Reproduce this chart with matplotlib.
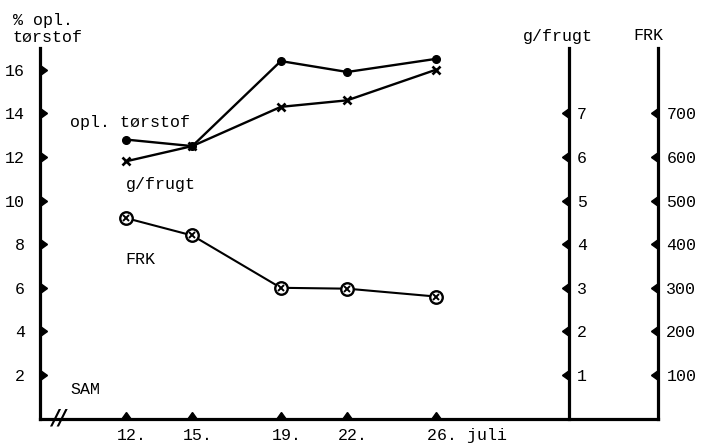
import numpy as np
import matplotlib
matplotlib.use("Agg")
import matplotlib.pyplot as plt
from matplotlib.markers import CARETRIGHTBASE, CARETLEFTBASE, CARETUPBASE
from matplotlib.transforms import ScaledTranslation

plt.rcParams['font.family'] = ['Liberation Mono', 'DejaVu Sans Mono']
plt.rcParams['font.size'] = 12

# data (x = day in July)
dates = [12, 15, 19, 22, 26]
date_labels = ["12.", "15.", "19.", "22.", "26. juli"]
torstof = [12.8, 12.5, 16.4, 15.9, 16.5]      # % opl. tørstof, left axis
g_frugt = [5.9, 6.25, 7.15, 7.3, 8.0]         # g/frugt, middle axis
frk = [460, 420, 300, 298, 280]               # FRK, right axis

left_ticks = [2, 4, 6, 8, 10, 12, 14, 16]
g_ticks = [1, 2, 3, 4, 5, 6, 7]
frk_ticks = [100, 200, 300, 400, 500, 600, 700]

W, H = 704, 447
fig = plt.figure(figsize=(W / 100, H / 100), dpi=100)
ax = fig.add_axes([40 / W, (H - 418.6) / H, 618 / W, 370.6 / H])
ax.set_xlim(8.12, 36.04)
ax.set_ylim(0, 17)

lw_axis = 2.3
for s in ["top", "right"]:
    ax.spines[s].set_visible(False)
for s in ["left", "bottom"]:
    ax.spines[s].set_linewidth(lw_axis)

ax2 = ax.twinx()
ax2.set_ylim(0, 8.5)
ax3 = ax.twinx()
ax3.set_ylim(0, 850)
for a in (ax2, ax3):
    for s in ["top", "left", "bottom"]:
        a.spines[s].set_visible(False)
    a.spines["right"].set_linewidth(lw_axis)
ax2.spines["right"].set_position(("data", 32))

# ticks: labels only, triangle markers drawn below
ax.set_xticks(dates)
ax.set_xticklabels(date_labels)
ax.set_yticks(left_ticks)
ax.tick_params(axis="y", length=0, pad=11)
ax.tick_params(axis="x", length=0, pad=7)
for lab in ax.get_xticklabels():
    lab.set_horizontalalignment("left")
    lab.set_transform(lab.get_transform() + ScaledTranslation(-9 / 100, 0, fig.dpi_scale_trans))

ax2.set_yticks(g_ticks)
ax3.set_yticks(frk_ticks)
for a in (ax2, ax3):
    a.tick_params(axis="y", length=0, pad=6)

mk = dict(color="k", ls="none", ms=7, clip_on=False, zorder=5)
ax.plot(np.zeros(len(left_ticks)), left_ticks, marker=CARETRIGHTBASE,
        transform=ax.get_yaxis_transform(), **mk)
ax.plot(dates, np.zeros(len(dates)), marker=CARETUPBASE,
        transform=ax.get_xaxis_transform(), **mk)
ax2.plot(np.full(len(g_ticks), 32.0), g_ticks, marker=CARETLEFTBASE, **mk)
ax3.plot(np.ones(len(frk_ticks)), frk_ticks, marker=CARETLEFTBASE,
         transform=ax3.get_yaxis_transform(), **mk)

# series
ax.plot(dates, torstof, color="k", lw=1.7, marker="o", ms=5.5, clip_on=False)
ax2.plot(dates, g_frugt, color="k", lw=1.7, marker="x", ms=6, mew=1.9, clip_on=False)
ax3.plot(dates, frk, color="k", lw=1.5, marker="o", ms=9, mfc="white", mew=1.7, clip_on=False)
ax3.plot(dates, frk, color="k", ls="none", marker="x", ms=5, mew=1.4, clip_on=False)


def ptext(x, y, s, **kw):
    fig.text(x / W, 1 - y / H, s, va="center", **kw)


ptext(13, 20, "% opl.")
ptext(13, 37, "tørstof")
ptext(558, 36, "g/frugt", ha="center")
ptext(648, 35, "FRK", ha="center")
ptext(70, 122, "opl. tørstof")
ptext(126, 184, "g/frugt")
ptext(125, 260, "FRK")
ptext(70, 390, "SAM")
ptext(59, 419, "//", ha="center", fontsize=15, fontweight="bold",
      family="DejaVu Sans", style="italic")

fig.savefig("out.png", dpi=100)
